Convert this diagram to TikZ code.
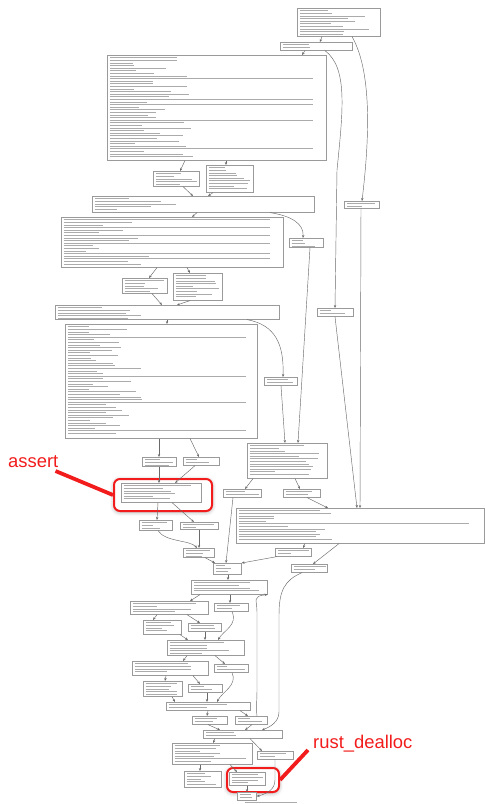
\documentclass[tikz,border=0pt]{standalone}
\usepackage{fontspec}
\setmainfont{Liberation Sans}
\usetikzlibrary{arrows.meta,positioning,shadows.blur}
\definecolor{BoxLine}{HTML}{9A9A9A}
\definecolor{IRText}{HTML}{ABABAB}
\definecolor{EdgeInk}{HTML}{6A6A6A}
\definecolor{MarkRed}{HTML}{F21C1C}

\begin{document}
\begin{tikzpicture}[x=1pt, y=-1pt,
    blk/.style={draw=BoxLine, fill=white, line width=0.6pt,
      anchor=north west, inner sep=0pt},
    arr/.style={-{Stealth[length=3pt,width=2.4pt]}, draw=EdgeInk, line width=0.45pt},
    irline/.style={draw=IRText, line width=0.8pt},
    hl/.style={draw=MarkRed, fill=white, line width=2pt, rounded corners=6pt,
      anchor=north west, inner sep=0pt,
      blur shadow={shadow xshift=0pt, shadow yshift=-1pt,
        shadow blur radius=4pt, shadow opacity=35}},
    ptr/.style={draw=MarkRed, line width=3.8pt},
    note/.style={text=MarkRed, font=\fontsize{18.4}{20}\selectfont,
      anchor=base west, inner sep=0pt}
  ]
  \useasboundingbox (0,0) rectangle (485,804);

  % highlights first, blocks cover their shadow
  \node[hl, minimum width=98pt, minimum height=32pt] (hla) at (113,478) {};
  \node[hl, minimum width=52pt, minimum height=24pt] (hlu) at (226,767) {};

  % basic blocks
  \node[blk, minimum width=83pt,  minimum height=28pt]  (b0)  at (297,8)   {};
  \node[blk, minimum width=72pt,  minimum height=8pt]   (b1)  at (280,42)  {};
  \node[blk, minimum width=219pt, minimum height=105pt] (b2)  at (107,55)  {};
  \node[blk, minimum width=46pt,  minimum height=15pt]  (b3a) at (153,171) {};
  \node[blk, minimum width=47pt,  minimum height=27pt]  (b3b) at (206,165) {};
  \node[blk, minimum width=222pt, minimum height=16pt]  (b4)  at (92,196)  {};
  \node[blk, minimum width=222pt, minimum height=50pt]  (b5)  at (61,217)  {};
  \node[blk, minimum width=45pt,  minimum height=15pt]  (b6a) at (122,278) {};
  \node[blk, minimum width=49pt,  minimum height=27pt]  (b6b) at (173,273) {};
  \node[blk, minimum width=224pt, minimum height=14pt]  (b7)  at (55,305)  {};
  \node[blk, minimum width=192pt, minimum height=114pt] (b8)  at (65,324)  {};
  \node[blk, minimum width=34pt,  minimum height=9pt]   (m1)  at (289,238) {};
  \node[blk, minimum width=35pt,  minimum height=7pt]   (r1)  at (344,201) {};
  \node[blk, minimum width=36pt,  minimum height=8pt]   (r2)  at (317,308) {};
  \node[blk, minimum width=33pt,  minimum height=8pt]   (m2)  at (264,377) {};
  \node[blk, minimum width=80pt,  minimum height=35pt]  (m3)  at (247,443) {};
  \node[blk, minimum width=34pt,  minimum height=9pt]   (c1a) at (142,457) {};
  \node[blk, minimum width=36pt,  minimum height=8pt]   (c1b) at (183,457) {};
  \node[blk, minimum width=80pt,  minimum height=19pt]  (a)   at (121,483) {};
  \node[blk, minimum width=38pt,  minimum height=8pt]   (m4a) at (223,489) {};
  \node[blk, minimum width=37pt,  minimum height=8pt]   (m4b) at (283,489) {};
  \node[blk, minimum width=248pt, minimum height=35pt]  (br)  at (236,508) {};
  \node[blk, minimum width=33pt,  minimum height=10pt]  (c2a) at (139,520) {};
  \node[blk, minimum width=38pt,  minimum height=7pt]   (c2b) at (180,522) {};
  \node[blk, minimum width=31pt,  minimum height=9pt]   (c3)  at (183,548) {};
  \node[blk, minimum width=36pt,  minimum height=8pt]   (n0)  at (275,548) {};
  \node[blk, minimum width=36pt,  minimum height=8pt]   (n0b) at (291,564) {};
  \node[blk, minimum width=28pt,  minimum height=11pt]  (n1)  at (213,563) {};
  \node[blk, minimum width=76pt,  minimum height=14pt]  (n2)  at (191,580) {};
  \node[blk, minimum width=78pt,  minimum height=13pt]  (p1)  at (130,601) {};
  \node[blk, minimum width=34pt,  minimum height=8pt]   (p2)  at (214,603) {};
  \node[blk, minimum width=38pt,  minimum height=14pt]  (p3a) at (143,620) {};
  \node[blk, minimum width=33pt,  minimum height=8pt]   (p3b) at (188,623) {};
  \node[blk, minimum width=77pt,  minimum height=15pt]  (p4)  at (167,640) {};
  \node[blk, minimum width=76pt,  minimum height=14pt]  (q1)  at (132,661) {};
  \node[blk, minimum width=34pt,  minimum height=8pt]   (q2)  at (214,664) {};
  \node[blk, minimum width=39pt,  minimum height=15pt]  (r3a) at (143,681) {};
  \node[blk, minimum width=34pt,  minimum height=8pt]   (r3b) at (188,684) {};
  \node[blk, minimum width=84pt,  minimum height=8pt]   (r4)  at (166,702) {};
  \node[blk, minimum width=35pt,  minimum height=8pt]   (r5a) at (192,716) {};
  \node[blk, minimum width=32pt,  minimum height=8pt]   (r5b) at (235,716) {};
  \node[blk, minimum width=79pt,  minimum height=8pt]   (s1)  at (203,730) {};
  \node[blk, minimum width=80pt,  minimum height=21pt]  (t1)  at (172,743) {};
  \node[blk, minimum width=36pt,  minimum height=8pt]   (t2)  at (257,751) {};
  \node[blk, minimum width=37pt,  minimum height=16pt]  (u1)  at (184,771) {};
  \node[blk, minimum width=36pt,  minimum height=13pt]  (u2)  at (229,772) {};
  \node[blk, minimum width=19pt,  minimum height=8pt]   (v)   at (237,792) {};

  % unreadable IR lines inside the blocks
  \pgfmathsetseed{42}
  \foreach \n/\w/\k in {b0/83/10, b1/72/2, b2/219/39, b3a/46/5, b3b/47/9,
      b4/222/5, b5/222/18, b6a/45/5, b6b/49/9, b7/224/5, b8/192/42,
      m1/34/3, r1/35/2, r2/36/2, m2/33/2, m3/80/12, c1a/34/3, c1b/36/2,
      a/80/6, m4a/38/2, m4b/37/2, br/248/12, c2a/33/3, c2b/38/2, c3/31/3,
      n0/36/2, n0b/36/2, n1/28/3, n2/76/4, p1/78/4, p2/34/2, p3a/38/4,
      p3b/33/2, p4/77/5, q1/76/4, q2/34/2, r3a/39/5, r3b/34/2, r4/84/2,
      r5a/35/2, r5b/32/2, s1/79/2, t1/80/7, t2/36/2, u1/37/5, u2/36/4,
      v/19/2}{
    \foreach \i in {1,...,\k}{
      \pgfmathsetmacro\rr{rnd}
      \pgfmathsetmacro\lw{ifthenelse(\w>100, ifthenelse(\rr>0.86, 0.93*\w, \w*(0.1+0.3*rnd)), \w*(0.3+0.6*rnd))}
      \pgfmathsetmacro\yy{1.5+(\i-0.5)*2.6}
      \draw[irline] ([xshift=2.5pt,yshift={-\yy*1pt}]\n.north west) -- ++(\lw,0);
    }
  }
  \draw[irline] (245,802.5) -- (297,802.5);

  % edges
  \draw[arr] ([xshift=25pt]b0.south west) -- ([xshift=40pt]b1.north west);
  \draw[arr] ([xshift=55pt]b0.south west) .. controls (374,75) and (368,150) .. ([xshift=18pt]r1.north west);
  \draw[arr] ([xshift=25pt]b1.south west) -- ([xshift=195pt]b2.north west);
  \draw[arr] ([xshift=45pt]b1.south west) .. controls (348,68) and (343,110) .. (337,170) -- ([xshift=18pt]r2.north west);
  \draw[arr] ([xshift=78pt]b2.south west) -- ([xshift=27pt]b3a.north west);
  \draw[arr] ([xshift=119pt]b2.south west) -- ([xshift=20pt]b3b.north west);
  \draw[arr] ([xshift=30pt]b3a.south west) -- ([xshift=101pt]b4.north west);
  \draw[arr] ([xshift=7pt]b3b.south west) -- ([xshift=116pt]b4.north west);
  \draw[arr] ([xshift=105pt]b4.south west) -- ([xshift=131pt]b5.north west);
  \draw[arr] ([xshift=178pt]b4.south west) .. controls (292,216) and (304,224) .. ([xshift=14pt]m1.north west);
  \draw[arr] ([xshift=96pt]b5.south west) -- ([xshift=27pt]b6a.north west);
  \draw[arr] ([xshift=126pt]b5.south west) -- ([xshift=17pt]b6b.north west);
  \draw[arr] ([xshift=30pt]b6a.south west) -- ([xshift=107pt]b7.north west);
  \draw[arr] ([xshift=17pt]b6b.south west) -- ([xshift=122pt]b7.north west);
  \draw[arr] ([xshift=112pt]b7.south west) -- ([xshift=102pt]b8.north west);
  \draw[arr] ([xshift=192pt]b7.south west) .. controls (276,325) and (284,345) .. ([xshift=19pt]m2.north west);
  \draw[arr] ([xshift=21pt]m1.south west) -- ([xshift=51pt]m3.north west);
  \draw[arr] ([xshift=17pt]m2.south west) -- ([xshift=38pt]m3.north west);
  \draw[arr] ([xshift=17pt]r1.south west) -- ([xshift=124pt]br.north west);
  \draw[arr] ([xshift=18pt]r2.south west) -- ([xshift=121pt]br.north west);
  \draw[arr] ([xshift=94pt]b8.south west) -- ([xshift=17pt]c1a.north west);
  \draw[arr] ([xshift=125pt]b8.south west) -- ([xshift=16pt]c1b.north west);
  \draw[arr] ([xshift=17pt]c1a.south west) -- ([xshift=38pt]a.north west);
  \draw[arr] ([xshift=12pt]c1b.south west) -- ([xshift=54pt]a.north west);
  \draw[arr] ([xshift=6pt]m3.south west) -- ([xshift=22pt]m4a.north west);
  \draw[arr] ([xshift=48pt]m3.south west) -- ([xshift=17pt]m4b.north west);
  \draw[arr] ([xshift=24pt]m4b.south west) -- ([xshift=92pt]br.north west);
  \draw[arr] ([xshift=37pt]a.south west) -- ([xshift=18pt]c2a.north west);
  \draw[arr] ([xshift=51pt]a.south west) -- ([xshift=14pt]c2b.north west);
  \draw[arr] ([xshift=19pt]c2a.south west) .. controls (165,542) and (190,540) .. ([xshift=14pt]c3.north west);
  \draw[arr] ([xshift=19pt]c2b.south west) -- ([xshift=16pt]c3.north west);
  \draw[arr] ([xshift=10pt]m4a.south west) -- ([xshift=13pt]n1.north west);
  \draw[arr] ([xshift=22pt]c3.south west) -- ([xshift=2pt]n1.north west);
  \draw[arr] ([xshift=2pt]n0.south west) -- (n1.north east);
  \draw[arr] ([xshift=69pt]br.south west) -- ([xshift=28pt]n0.north west);
  \draw[arr] ([xshift=103pt]br.south west) -- ([xshift=22pt]n0b.north west);
  \draw[arr] ([xshift=15pt]n1.south west) -- ([xshift=37pt]n2.north west);
  \draw[arr] ([xshift=9pt]n2.south west) -- ([xshift=60pt]p1.north west);
  \draw[arr] ([xshift=39pt]n2.south west) -- ([xshift=16pt]p2.north west);
  \draw[arr] ([xshift=27pt]p1.south west) -- ([xshift=10pt]p3a.north west);
  \draw[arr] ([xshift=57pt]p1.south west) -- ([xshift=12pt]p3b.north west);
  \draw[arr] ([xshift=18pt]p2.south west) .. controls (238,625) and (224,630) .. ([xshift=51pt]p4.north west);
  \draw[arr] ([xshift=37pt]p3a.south west) -- ([xshift=21pt]p4.north west);
  \draw[arr] ([xshift=17pt]p3b.south west) -- ([xshift=38pt]p4.north west);
  \draw[arr] ([xshift=20pt]p4.south west) -- ([xshift=51pt]q1.north west);
  \draw[arr] ([xshift=48pt]p4.south west) -- ([xshift=11pt]q2.north west);
  \draw[arr] ([xshift=34pt]q1.south west) -- ([xshift=22pt]r3a.north west);
  \draw[arr] ([xshift=61pt]q1.south west) -- ([xshift=12pt]r3b.north west);
  \draw[arr] ([xshift=18pt]q2.south west) .. controls (238,685) and (222,692) .. ([xshift=51pt]r4.north west);
  \draw[arr] ([xshift=29pt]r3a.south west) -- ([xshift=9pt]r4.north west);
  \draw[arr] ([xshift=19pt]r3b.south west) -- ([xshift=41pt]r4.north west);
  \draw[arr] ([xshift=42pt]r4.south west) -- ([xshift=15pt]r5a.north west);
  \draw[arr] ([xshift=74pt]r4.south west) -- ([xshift=13pt]r5b.north west);
  \draw[arr] ([xshift=22pt]r5b.north west) .. controls (256,708) and (257,700) .. (257,690) -- (257,612) .. controls (257,600) and (252,596) .. (n2.south east);
  \draw[arr] ([xshift=16pt]r5a.south west) -- ([xshift=17pt]s1.north west);
  \draw[arr] ([xshift=17pt]r5b.south west) -- ([xshift=42pt]s1.north west);
  \draw[arr] ([xshift=11pt]n0b.south west) .. controls (285,580) and (279,590) .. (279,615) -- (279,712) .. controls (279,722) and (270,727) .. ([xshift=59pt]s1.north west);
  \draw[arr] ([xshift=12pt]s1.south west) -- ([xshift=41pt]t1.north west);
  \draw[arr] ([xshift=47pt]s1.south west) -- ([xshift=5pt]t2.north west);
  \draw[arr] ([xshift=28pt]t1.south west) -- ([xshift=16pt]u1.north west);
  \draw[arr] ([xshift=58pt]t1.south west) -- ([xshift=8pt]u2.north west);
  \draw[arr] ([xshift=18pt]u2.south west) -- ([xshift=10pt]v.north west);
  \draw[arr] ([xshift=18pt]t2.south west) -- (275,780) .. controls (275,790) and (266,794) .. (v.east);

  % annotations
  \node[note] (lassert) at (8,467) {assert};
  \node[note] (lrust) at (313,748) {rust\_dealloc};
  \draw[ptr] ([xshift=-3pt,yshift=-4pt]lassert.base east) -- (hla.west);
  \draw[ptr] ([xshift=-5pt,yshift=-2pt]lrust.base west) -- (hlu.east);

\end{tikzpicture}
\end{document}
